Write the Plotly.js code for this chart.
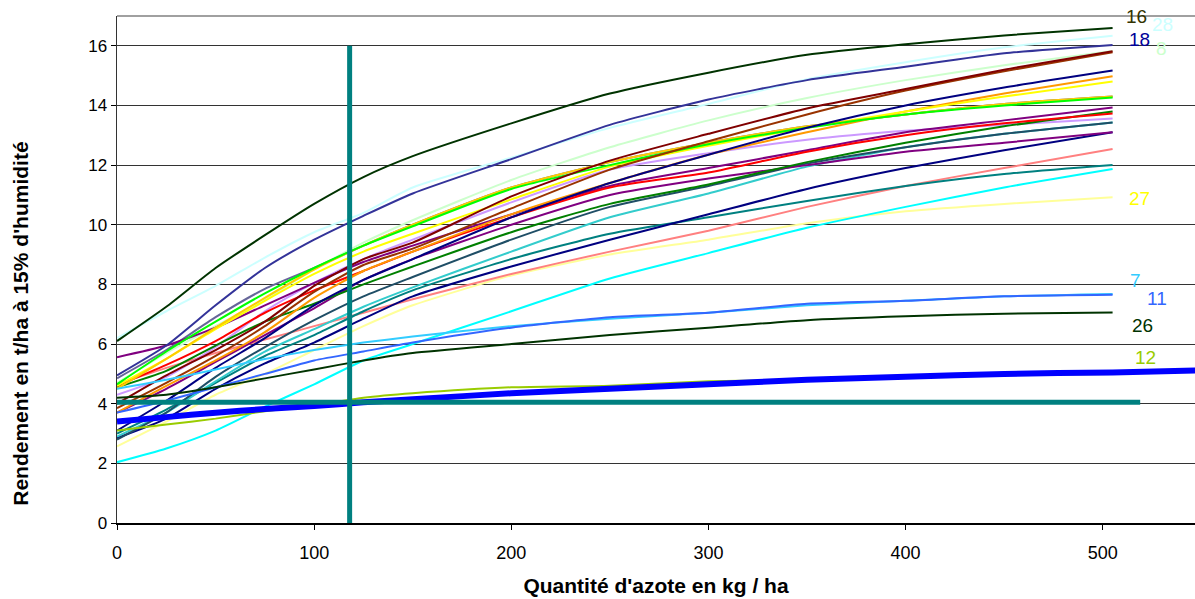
<!DOCTYPE html>
<html>
<head>
<meta charset="utf-8">
<script src="https://cdn.plot.ly/plotly-3.0.1.min.js"></script>
<style>html,body{margin:0;padding:0;background:#fff;}#chart{width:1195px;height:599px;}</style>
</head>
<body>
<div id="chart"></div>
<script>
// Nitrogen dose (kg/ha) sample points
const doses = [0, 25, 50, 75, 100, 125, 150, 200, 250, 300, 350, 400, 450, 505];
const dosesLong = [0, 25, 50, 75, 100, 125, 150, 200, 250, 300, 350, 400, 450, 505, 550];

// Yield curves (t/ha at 15% humidity)
const v16 = [6.1, 7.25, 8.55, 9.65, 10.7, 11.6, 12.3, 13.4, 14.4, 15.1, 15.7, 16.05, 16.35, 16.6];
const v28 = [6.2, 7.1, 7.95, 8.9, 9.75, 10.4, 11.25, 12.25, 13.25, 14.05, 14.88, 15.45, 15.95, 16.34];
const v18 = [4.95, 5.95, 7.3, 8.55, 9.5, 10.3, 11.05, 12.2, 13.35, 14.2, 14.85, 15.3, 15.75, 16.03];
const v8 = [4.7, 5.7, 6.6, 7.5, 8.5, 9.4, 10.15, 11.5, 12.6, 13.5, 14.25, 14.85, 15.35, 15.83];
const vMaroon = [4.0, 4.95, 5.8, 6.75, 7.95, 8.85, 9.4, 10.95, 12.15, 13.05, 13.9, 14.55, 15.2, 15.82];
const vBrown = [3.85, 4.7, 5.6, 6.6, 7.75, 8.65, 9.2, 10.55, 11.85, 12.8, 13.7, 14.5, 15.15, 15.78];
const vNavy = [3.1, 4.1, 5.2, 6.2, 7.3, 8.15, 8.85, 10.25, 11.4, 12.35, 13.25, 14.0, 14.6, 15.17];
const vOrange = [3.7, 4.6, 5.45, 6.4, 7.55, 8.45, 9.1, 10.35, 11.4, 12.35, 13.1, 13.8, 14.4, 14.98];
const vYellow = [4.6, 5.5, 6.5, 7.45, 8.35, 9.1, 9.7, 10.85, 11.95, 12.65, 13.25, 13.8, 14.3, 14.8];
const vGreyBlue = [4.85, 5.8, 6.9, 7.85, 8.55, 9.3, 10.0, 11.25, 12.1, 12.75, 13.3, 13.7, 14.05, 14.3];
const vLime = [4.65, 5.75, 6.75, 7.7, 8.55, 9.3, 9.95, 11.2, 12.0, 12.7, 13.25, 13.7, 14.0, 14.27];
const vGold = [4.5, 5.5, 6.55, 7.55, 8.5, 9.3, 10.0, 11.25, 12.1, 12.75, 13.3, 13.7, 14.05, 14.3];
const vPurple = [5.56, 5.95, 6.55, 7.3, 8.05, 8.75, 9.3, 10.35, 11.3, 11.9, 12.5, 13.1, 13.5, 13.93];
const vPurple2 = [3.7, 4.5, 5.4, 6.3, 7.2, 8.15, 8.85, 10.0, 11.0, 11.55, 12.0, 12.45, 12.75, 13.1];
const vGreen = [4.55, 5.1, 5.95, 6.75, 7.35, 8.0, 8.6, 9.75, 10.7, 11.35, 12.1, 12.75, 13.3, 13.8];
const vRed = [4.6, 5.3, 6.1, 7.05, 7.8, 8.45, 9.1, 10.25, 11.25, 11.75, 12.45, 13.0, 13.4, 13.73];
const vLavender = [4.3, 4.9, 5.9, 7.1, 8.05, 8.85, 9.5, 10.75, 11.85, 12.4, 12.85, 13.15, 13.35, 13.56];
const vTurquoise = [2.9, 3.7, 4.75, 5.75, 6.5, 7.25, 7.9, 9.1, 10.25, 11.05, 11.95, 12.6, 13.05, 13.43];
const vDarkSlate = [2.8, 3.7, 4.9, 5.9, 6.8, 7.6, 8.25, 9.5, 10.6, 11.3, 12.05, 12.6, 13.05, 13.43];
const vNavy2 = [2.85, 3.5, 4.5, 5.35, 6.05, 6.85, 7.6, 8.6, 9.5, 10.35, 11.2, 11.9, 12.5, 13.1];
const vSalmon = [4.65, 5.2, 5.7, 6.15, 6.6, 7.05, 7.5, 8.35, 9.1, 9.8, 10.6, 11.3, 11.9, 12.54];
const vTeal = [3.0, 3.8, 4.7, 5.6, 6.3, 7.1, 7.8, 8.85, 9.7, 10.25, 10.8, 11.3, 11.7, 12.0];
const vCyan = [2.04, 2.5, 3.1, 3.9, 4.65, 5.45, 6.0, 7.1, 8.2, 9.05, 9.9, 10.6, 11.25, 11.87];
const v27 = [2.57, 3.4, 4.3, 5.0, 5.8, 6.6, 7.3, 8.3, 9.0, 9.5, 10.05, 10.45, 10.7, 10.92];
const v7 = [4.5, 4.8, 5.15, 5.5, 5.8, 6.05, 6.25, 6.6, 6.85, 7.05, 7.3, 7.45, 7.6, 7.68];
const v11 = [3.7, 4.1, 4.55, 5.0, 5.45, 5.75, 6.05, 6.55, 6.9, 7.05, 7.35, 7.45, 7.6, 7.65];
const v26 = [4.2, 4.3, 4.55, 4.85, 5.15, 5.45, 5.7, 6.0, 6.3, 6.55, 6.8, 6.93, 7.02, 7.06];
const v12 = [3.1, 3.3, 3.5, 3.75, 3.95, 4.2, 4.35, 4.55, 4.6, 4.75, 4.8, 4.9, 4.97, 5.0];
const vMean = [3.4, 3.55, 3.7, 3.82, 3.92, 4.05, 4.15, 4.35, 4.5, 4.65, 4.8, 4.9, 5.0, 5.05, 5.12];

// Reference lines
const refVX = [118, 118];
const refVY = [0, 16];
const refHX = [0, 519];
const refHY = [4.05, 4.05];

// End labels
const labelText = ['16', '28', '18', '8', '27', '7', '11', '26', '12'];
const labelX = [517.3, 530.5, 518.4, 530, 518.4, 516.6, 527.7, 520.4, 521.6];
const labelY = [16.99, 16.71, 16.22, 15.9, 10.89, 8.14, 7.53, 6.63, 5.54];
const labelColor = ['#333300', '#CCFFFF', '#000099', '#CCFFCC', '#FFFF00', '#33CCFF', '#3366FF', '#003300', '#99CC00'];

const xTitle = "Quantité d'azote en kg / ha";
const yTitle = "Rendement en t/ha à 15% d'humidité";

const curves = [
  [v28, '#CCFFFF'], [v8, '#CCFFCC'], [v27, '#FFFF99'], [vSalmon, '#FF8080'],
  [vCyan, '#00FFFF'], [vTeal, '#008080'], [vNavy2, '#000080'], [vTurquoise, '#33CCCC'],
  [vDarkSlate, '#1F4E66'], [vLavender, '#CC99FF'], [vGreyBlue, '#666699'],
  [vPurple2, '#800080'], [vPurple, '#800080'], [vGreen, '#008000'], [vRed, '#FF0000'],
  [vOrange, '#FF9900'], [vYellow, '#FFFF00'], [vGold, '#FFCC00'], [vLime, '#00FF00'],
  [vNavy, '#000080'], [vBrown, '#993300'], [vMaroon, '#800000'],
  [v18, '#333399'], [v16, '#003300'],
  [v7, '#33CCFF'], [v11, '#3366FF'], [v26, '#003300'], [v12, '#99CC00']
];

const traces = curves.map(c => ({
  x: doses, y: c[0], type: 'scatter', mode: 'lines',
  line: {color: c[1], width: 2, shape: 'spline', smoothing: 0.6},
  hoverinfo: 'skip', showlegend: false
}));
traces.push({x: dosesLong, y: vMean, type: 'scatter', mode: 'lines',
  line: {color: '#0000FF', width: 6, shape: 'spline', smoothing: 0.6}, showlegend: false, hoverinfo: 'skip'});
traces.push({x: refHX, y: refHY, type: 'scatter', mode: 'lines',
  line: {color: '#008080', width: 5}, showlegend: false, hoverinfo: 'skip'});
traces.push({x: refVX, y: refVY, type: 'scatter', mode: 'lines',
  line: {color: '#008080', width: 5}, showlegend: false, hoverinfo: 'skip'});

const annotations = labelText.map((t, i) => ({
  x: labelX[i], y: labelY[i], xref: 'x', yref: 'y', text: t, showarrow: false,
  xanchor: 'center', yanchor: 'middle',
  font: {family: 'Liberation Sans, Arial, sans-serif', size: 19, color: labelColor[i]}
}));
annotations.push({
  x: -0.0895, y: 0.392, xref: 'paper', yref: 'paper', text: yTitle, showarrow: false,
  textangle: -90, xanchor: 'center', yanchor: 'middle',
  font: {family: 'Liberation Sans, Arial, sans-serif', size: 21, weight: 'bold', color: '#000'}
});

const layout = {
  width: 1195, height: 599,
  margin: {l: 117, r: 0, t: 16, b: 76},
  paper_bgcolor: '#ffffff', plot_bgcolor: '#ffffff',
  font: {family: 'Liberation Sans, Arial, sans-serif', color: '#000'},
  xaxis: {
    range: [0, 546.8], tickvals: [0, 100, 200, 300, 400, 500],
    ticks: 'outside', ticklen: 5, tickcolor: '#000', tickwidth: 1,
    showgrid: false, zeroline: false,
    showline: true, linecolor: '#000', linewidth: 2,
    tickfont: {size: 18}, ticklabelstandoff: 7,
    title: {text: xTitle, font: {size: 21, weight: 'bold'}, standoff: 17}
  },
  yaxis: {
    range: [0, 17], tickvals: [0, 2, 4, 6, 8, 10, 12, 14, 16],
    ticks: 'outside', ticklen: 5, tickcolor: '#000', tickwidth: 1,
    showgrid: true, gridcolor: '#333333', gridwidth: 1, zeroline: false,
    showline: true, linecolor: '#333', linewidth: 1.5,
    tickfont: {size: 17}
  },
  shapes: [{type: 'line', xref: 'paper', yref: 'paper', x0: 0, x1: 1, y0: 1, y1: 1,
    line: {color: '#808080', width: 1.5}}],
  annotations: annotations
};

Plotly.newPlot('chart', traces, layout, {displayModeBar: false, staticPlot: true});
</script>
</body>
</html>
